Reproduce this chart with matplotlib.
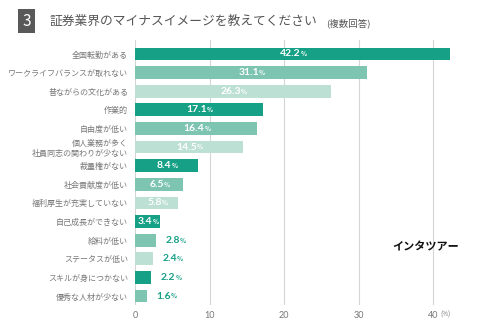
import matplotlib.pyplot as plt

plt.rcParams['font.family'] = ['Noto Sans CJK JP', 'DejaVu Sans']

labels = ['全国転勤がある', 'ワークライフバランスが取れない', '昔ながらの文化がある', '作業的',
          '自由度が低い', '個人業務が多く\n社員同志の関わりが少ない', '裁量権がない', '社会貢献度が低い',
          '福利厚生が充実していない', '自己成長ができない', '給料が低い', 'ステータスが低い',
          'スキルが身につかない', '優秀な人材が少ない']
values = [42.2, 31.1, 26.3, 17.1, 16.4, 14.5, 8.4, 6.5, 5.8, 3.4, 2.8, 2.4, 2.2, 1.6]
xticks = [0, 10, 20, 30, 40]

dark, mid, light = '#16a085', '#7dc4b1', '#bde0d5'
cols = [dark, mid, light] * 5

fig = plt.figure(figsize=(4.9, 3.25), dpi=100)
ax = fig.add_axes([0.2755, 0.0615, 0.70, 0.8155])

y = range(len(values))
ax.barh(y, values, height=0.68, color=cols[:len(values)], zorder=2)
ax.set_ylim(13.48, -0.75)
ax.set_xlim(0, 46)
for s in ax.spines.values():
    s.set_visible(False)
ax.set_xticks(xticks)
ax.set_xticklabels([str(t) for t in xticks], fontsize=6.5, color='#777777', family='Lato')
ax.tick_params(axis='x', length=0, pad=4)
ax.grid(axis='x', color='#d5d5d5', linewidth=0.8, zorder=0)
ax.set_yticks(list(y))
ax.set_yticklabels(labels, fontsize=5.8, color='#777777', linespacing=1.05)
ax.tick_params(axis='y', length=0, pad=5)
ax.text(41.0, -0.035, '(%)', fontsize=4.5, color='#777777', va='center', ha='left',
        transform=ax.get_xaxis_transform())

for i, v in enumerate(values):
    if v >= 3:
        t = ax.text(v / 2 - 0.3, i, f'{v}', ha='center', va='center', fontsize=7.5,
                    fontweight='bold', color='white', family='Lato', zorder=3)
        c = 'white'
    else:
        t = ax.text(v + 1.3, i, f'{v}', ha='left', va='center', fontsize=7.5,
                    fontweight='bold', color=dark, family='Lato', zorder=3)
        c = dark
    ax.annotate('%', xy=(1, 0.12), xycoords=t, fontsize=4.5, color=c,
                fontweight='bold', va='bottom', ha='left', zorder=3)

# title
fig.text(0.054, 0.935, '3', fontsize=11, color='white', ha='center', va='center',
         bbox=dict(boxstyle='square,pad=0.25', fc='#595959', ec='none'))
fig.text(0.102, 0.935, '証券業界のマイナスイメージを教えてください', fontsize=9.2,
         color='#555555', ha='left', va='center')
fig.text(0.665, 0.928, '(複数回答)', fontsize=6.8, color='#555555', ha='left', va='center')

fig.text(0.80, 0.24, 'インタツアー', fontsize=8, fontweight='bold', color='#111111',
         ha='left', va='center')

fig.savefig('out.png', dpi=100)
